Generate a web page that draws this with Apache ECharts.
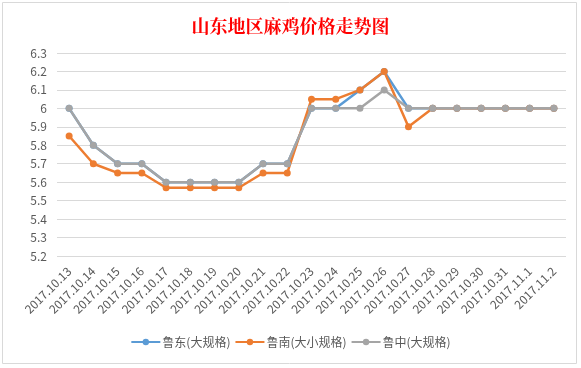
<!DOCTYPE html>
<html><head><meta charset="utf-8">
<script src="https://cdn.jsdelivr.net/npm/echarts@6/dist/echarts.min.js"></script>
<style>html,body{margin:0;padding:0;background:#fff}#c{width:581px;height:368px}</style>
</head><body><div id="c"></div>
<script>
const categories = ['2017.10.13','2017.10.14','2017.10.15','2017.10.16','2017.10.17','2017.10.18','2017.10.19','2017.10.20','2017.10.21','2017.10.22','2017.10.23','2017.10.24','2017.10.25','2017.10.26','2017.10.27','2017.10.28','2017.10.29','2017.10.30','2017.10.31','2017.11.1','2017.11.2'];
const ludong = [6.0,5.8,5.7,5.7,5.6,5.6,5.6,5.6,5.7,5.7,6.0,6.0,6.1,6.2,6.0,6.0,6.0,6.0,6.0,6.0,6.0];
const lunan = [5.85,5.7,5.65,5.65,5.57,5.57,5.57,5.57,5.65,5.65,6.05,6.05,6.1,6.2,5.9,6.0,6.0,6.0,6.0,6.0,6.0];
const luzhong = [6.0,5.8,5.7,5.7,5.6,5.6,5.6,5.6,5.7,5.7,6.0,6.0,6.0,6.1,6.0,6.0,6.0,6.0,6.0,6.0,6.0];
const seriesNames = ['鲁东(大规格)','鲁南(大小规格)','鲁中(大规格)'];
const colors = ['#5B9BD5','#ED7D31','#A5A5A5'];
const font = '"Microsoft YaHei","Noto Sans CJK SC","Noto Sans",sans-serif';
const chart = echarts.init(document.getElementById('c'));
const mk = (name, data, color) => ({
  name, type:'line', data, color,
  symbol:'circle', symbolSize:7,
  lineStyle:{width:2.5, color}, itemStyle:{color},
  emphasis:{disabled:true}
});
chart.setOption({
  animation:false,
  title:{text:'山东地区麻鸡价格走势图', left:'center', top:12,
    textStyle:{color:'#FF0000', fontSize:18, fontWeight:'bold', fontFamily:'"Noto Serif CJK SC","Noto Sans CJK SC",serif'}},
  graphic:[{type:'rect', shape:{x:2.5,y:2.5,width:574,height:361}, style:{fill:'none', stroke:'#d9d9d9', lineWidth:1}, silent:true}],
  grid:{left:57, right:15, top:53, bottom:112, containLabel:false},
  legend:{bottom:15, left:'center', itemWidth:29, itemHeight:8, itemGap:4,
    data:seriesNames, textStyle:{color:'#595959', fontSize:12, fontFamily:font, padding:[0,0,0,-3]}},
  xAxis:{type:'category', data:categories, boundaryGap:true,
    axisLine:{show:false}, axisTick:{show:false},
    axisLabel:{rotate:45, interval:0, color:'#595959', fontSize:12, fontFamily:font, margin:13}},
  yAxis:{type:'value', min:5.2, max:6.3, interval:0.1,
    axisLine:{show:false}, axisTick:{show:false},
    splitLine:{lineStyle:{color:'#d9d9d9', width:1}},
    axisLabel:{color:'#595959', fontSize:12, fontFamily:font, margin:10,
      formatter:v=>String(+v.toFixed(1))}},
  series:[mk(seriesNames[0], ludong, colors[0]), mk(seriesNames[1], lunan, colors[1]), mk(seriesNames[2], luzhong, colors[2])]
});
</script></body></html>
